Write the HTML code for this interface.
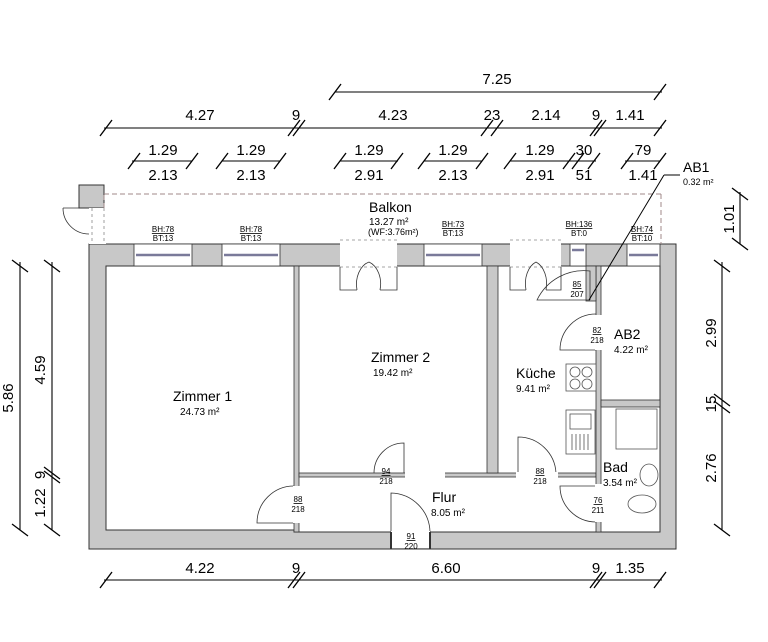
<!DOCTYPE html>
<html><head><meta charset="utf-8"><style>
html,body{margin:0;padding:0;background:#fff;}
svg{display:block;font-family:"Liberation Sans",Arial,sans-serif;}
</style></head><body>
<svg width="768" height="642" viewBox="0 0 768 642" xmlns="http://www.w3.org/2000/svg">
<defs>
<g id="tk"><line x1="-6" y1="8" x2="6" y2="-8" stroke="#000" stroke-width="1.3"/></g>
<g id="tkv"><line x1="-8" y1="-6" x2="8" y2="6" stroke="#000" stroke-width="1.3"/></g>
</defs>
<g fill="#c8c8c8" stroke="#333" stroke-width="1">
<path d="M89 244 H676 V549 H89 Z M106 266 V530 H294 V532 H660 V266 Z" fill-rule="evenodd"/>
<rect x="79" y="185" width="25" height="23"/>
</g>
<g fill="#c8c8c8" stroke="#333" stroke-width="0.8">
<rect x="294" y="266" width="5" height="266"/>
<rect x="299" y="473" width="297" height="4"/>
<rect x="487" y="266" width="11" height="207"/>
<rect x="596" y="266" width="5" height="266"/>
<rect x="601" y="400" width="59" height="7"/>
<rect x="586" y="266" width="10" height="35"/>
</g>
<g fill="#fff" stroke="#333" stroke-width="0.8">
<rect x="134" y="244" width="58" height="22"/>
<rect x="222" y="244" width="58" height="22"/>
<rect x="424" y="244" width="58" height="22"/>
<rect x="627" y="244" width="33" height="22"/>
<rect x="570" y="244" width="16" height="22"/>
</g>
<g stroke="#7a7a9a" stroke-width="2.5">
<line x1="136" y1="255" x2="190" y2="255"/><line x1="224" y1="255" x2="278" y2="255"/>
<line x1="426" y1="255" x2="480" y2="255"/><line x1="629" y1="255" x2="658" y2="255"/>
<line x1="572" y1="250" x2="584" y2="250"/>
</g>
<rect x="340" y="240" width="57" height="27" fill="#fff"/>
<rect x="510" y="240" width="51" height="27" fill="#fff"/>
<rect x="89" y="208" width="17" height="36" fill="#fff"/>
<g stroke="#888" stroke-width="0.8" stroke-dasharray="3,3" fill="none">
<line x1="340" y1="240" x2="397" y2="240"/><line x1="340" y1="267" x2="397" y2="267"/>
<line x1="510" y1="240" x2="561" y2="240"/><line x1="510" y1="267" x2="561" y2="267"/>
<line x1="92" y1="208" x2="92" y2="244"/><line x1="104" y1="208" x2="104" y2="244"/>
</g>
<g stroke="#a08888" stroke-width="1" stroke-dasharray="5,3" fill="none">
<line x1="104" y1="194" x2="661" y2="194"/><line x1="661" y1="194" x2="661" y2="244"/>
<line x1="104" y1="195" x2="104" y2="208"/>
</g>
<g stroke="#333" stroke-width="0.8" fill="none">
<path d="M63 208 H89 M63 208 A26 26 0 0 0 89 234"/>
<path d="M340 267 V290 H357 M357 290 A17 23 0 0 1 369 262"/>
<path d="M397 267 V290 H380 M380 290 A17 23 0 0 0 369 262"/>
<path d="M510 267 V290 H526 M526 290 A16 23 0 0 1 536 262"/>
<path d="M561 267 V290 H546 M546 290 A16 23 0 0 0 536 262"/>
<path d="M590 300 H537 A52 52 0 0 1 590 271 V300"/>
<path d="M596 350 H560 A36 36 0 0 1 596 314"/>
<path d="M404 473 V443 A30 30 0 0 0 374 473"/>
<path d="M518 473 V437 A38 38 0 0 1 556 473"/>
<path d="M294 523 H257 A37 37 0 0 1 294 486"/>
<path d="M391 532 V493 A40 40 0 0 1 430 532"/>
<path d="M596 486 H560 A36 36 0 0 0 596 522 V486"/>
</g>
<rect x="405" y="472" width="40" height="6" fill="#fff"/>
<rect x="516" y="472" width="42" height="6" fill="#fff"/>
<rect x="293" y="486" width="7" height="37" fill="#fff"/>
<rect x="595" y="315" width="7" height="35" fill="#fff"/>
<rect x="595" y="484" width="7" height="38" fill="#fff"/>
<rect x="391" y="531" width="39" height="17" fill="#fff"/>
<line x1="391" y1="532" x2="391" y2="549" stroke="#333" stroke-width="2"/>
<line x1="430" y1="532" x2="430" y2="549" stroke="#333" stroke-width="2"/>
<g stroke="#555" stroke-width="0.8" fill="#fff">
<rect x="566" y="364" width="30" height="27"/>
<circle cx="575" cy="372" r="5"/><circle cx="587" cy="372" r="5"/>
<circle cx="575" cy="384" r="5"/><circle cx="587" cy="384" r="5"/>
<rect x="566" y="410" width="29" height="44"/>
<rect x="570" y="414" width="21" height="15"/>
<path d="M572 434 V450 M576 434 V450 M580 434 V450 M584 434 V450 M588 434 V450"/>
<rect x="616" y="409" width="41" height="40"/>
<ellipse cx="649" cy="475" rx="9" ry="11"/>
<ellipse cx="642" cy="504" rx="14" ry="9"/>
</g>
<line x1="589" y1="300" x2="664" y2="175" stroke="#000" stroke-width="1"/>
<line x1="664" y1="175" x2="680" y2="175" stroke="#000" stroke-width="1"/>
<g stroke="#000" stroke-width="1.1">
<line x1="335" y1="92" x2="662" y2="92"/>
<line x1="104" y1="128" x2="662" y2="128"/>
<line x1="132" y1="161" x2="192" y2="161"/><line x1="222" y1="161" x2="280" y2="161"/>
<line x1="340" y1="161" x2="398" y2="161"/><line x1="424" y1="161" x2="482" y2="161"/>
<line x1="510" y1="161" x2="596" y2="161"/><line x1="625" y1="161" x2="660" y2="161"/>
<line x1="104" y1="580" x2="662" y2="580"/>
<line x1="20" y1="262" x2="20" y2="530"/>
<line x1="52" y1="262" x2="52" y2="530"/>
<line x1="722" y1="262" x2="722" y2="530"/>
<line x1="740" y1="192" x2="740" y2="244"/>
</g>
<g>
<use href="#tk" x="335" y="92"/><use href="#tk" x="660" y="92"/>
<use href="#tk" x="106" y="128"/><use href="#tk" x="294" y="128"/><use href="#tk" x="299" y="128"/>
<use href="#tk" x="487" y="128"/><use href="#tk" x="497" y="128"/><use href="#tk" x="596" y="128"/><use href="#tk" x="600" y="128"/><use href="#tk" x="660" y="128"/>
<use href="#tk" x="134" y="161"/><use href="#tk" x="192" y="161"/><use href="#tk" x="222" y="161"/><use href="#tk" x="280" y="161"/>
<use href="#tk" x="340" y="161"/><use href="#tk" x="397" y="161"/><use href="#tk" x="424" y="161"/><use href="#tk" x="482" y="161"/>
<use href="#tk" x="510" y="161"/><use href="#tk" x="569" y="161"/><use href="#tk" x="578" y="161"/><use href="#tk" x="594" y="161"/>
<use href="#tk" x="627" y="161"/><use href="#tk" x="660" y="161"/>
<use href="#tk" x="106" y="580"/><use href="#tk" x="294" y="580"/><use href="#tk" x="299" y="580"/><use href="#tk" x="596" y="580"/><use href="#tk" x="600" y="580"/><use href="#tk" x="660" y="580"/>
<use href="#tkv" x="20" y="266"/><use href="#tkv" x="20" y="530"/>
<use href="#tkv" x="52" y="266"/><use href="#tkv" x="52" y="473"/><use href="#tkv" x="52" y="477"/><use href="#tkv" x="52" y="530"/>
<use href="#tkv" x="722" y="266"/><use href="#tkv" x="722" y="400"/><use href="#tkv" x="722" y="407"/><use href="#tkv" x="722" y="530"/>
<use href="#tkv" x="740" y="194"/><use href="#tkv" x="740" y="244"/>
</g>
<g font-size="15" text-anchor="middle" fill="#000">
<text x="497" y="84">7.25</text>
<text x="200" y="120">4.27</text><text x="296" y="120">9</text><text x="393" y="120">4.23</text>
<text x="492" y="120">23</text><text x="546" y="120">2.14</text><text x="596" y="120">9</text><text x="630" y="120">1.41</text>
<text x="163" y="155">1.29</text><text x="163" y="180">2.13</text>
<text x="251" y="155">1.29</text><text x="251" y="180">2.13</text>
<text x="369" y="155">1.29</text><text x="369" y="180">2.91</text>
<text x="453" y="155">1.29</text><text x="453" y="180">2.13</text>
<text x="540" y="155">1.29</text><text x="540" y="180">2.91</text>
<text x="584" y="155">30</text><text x="584" y="180">51</text>
<text x="643" y="155">79</text><text x="643" y="180">1.41</text>
<text x="200" y="573">4.22</text><text x="296" y="573">9</text><text x="446" y="573">6.60</text><text x="596" y="573">9</text><text x="630" y="573">1.35</text>
<text transform="translate(13,398) rotate(-90)">5.86</text>
<text transform="translate(45,370) rotate(-90)">4.59</text>
<text transform="translate(45,475) rotate(-90)">9</text>
<text transform="translate(45,503) rotate(-90)">1.22</text>
<text transform="translate(716,333) rotate(-90)">2.99</text>
<text transform="translate(716,404) rotate(-90)">15</text>
<text transform="translate(716,468) rotate(-90)">2.76</text>
<text transform="translate(734,219) rotate(-90)">1.01</text>
</g>
<g fill="#000">
<text x="173" y="401" font-size="14">Zimmer 1</text><text x="180" y="415" font-size="10">24.73 m²</text>
<text x="371" y="362" font-size="14">Zimmer 2</text><text x="373" y="376" font-size="10">19.42 m²</text>
<text x="516" y="378" font-size="14">Küche</text><text x="516" y="392" font-size="10">9.41 m²</text>
<text x="614" y="339" font-size="14">AB2</text><text x="614" y="353" font-size="10">4.22 m²</text>
<text x="603" y="472" font-size="14">Bad</text><text x="603" y="486" font-size="10">3.54 m²</text>
<text x="432" y="502" font-size="14">Flur</text><text x="431" y="516" font-size="10">8.05 m²</text>
<text x="369" y="212" font-size="14">Balkon</text><text x="369" y="225" font-size="10">13.27 m²</text><text x="368" y="235" font-size="9">(WF:3.76m²)</text>
<text x="683" y="172" font-size="14">AB1</text><text x="683" y="185" font-size="9">0.32 m²</text>
</g>
<g font-size="8" text-anchor="middle" fill="#000">
<text x="163" y="232" text-decoration="underline">BH:78</text><text x="163" y="241">BT:13</text>
<text x="251" y="232" text-decoration="underline">BH:78</text><text x="251" y="241">BT:13</text>
<text x="453" y="227" text-decoration="underline">BH:73</text><text x="453" y="236">BT:13</text>
<text x="579" y="227" text-decoration="underline">BH:136</text><text x="579" y="236">BT:0</text>
<text x="642" y="232" text-decoration="underline">BH:74</text><text x="642" y="241">BT:10</text>
<text x="577" y="287" text-decoration="underline">85</text><text x="577" y="297">207</text>
<text x="597" y="333" text-decoration="underline">82</text><text x="597" y="343">218</text>
<text x="386" y="474" text-decoration="underline">94</text><text x="386" y="484">218</text>
<text x="540" y="474" text-decoration="underline">88</text><text x="540" y="484">218</text>
<text x="298" y="502" text-decoration="underline">88</text><text x="298" y="512">218</text>
<text x="598" y="503" text-decoration="underline">76</text><text x="598" y="513">211</text>
<text x="411" y="539" text-decoration="underline">91</text><text x="411" y="549">220</text>
</g>
</svg>
</body></html>
